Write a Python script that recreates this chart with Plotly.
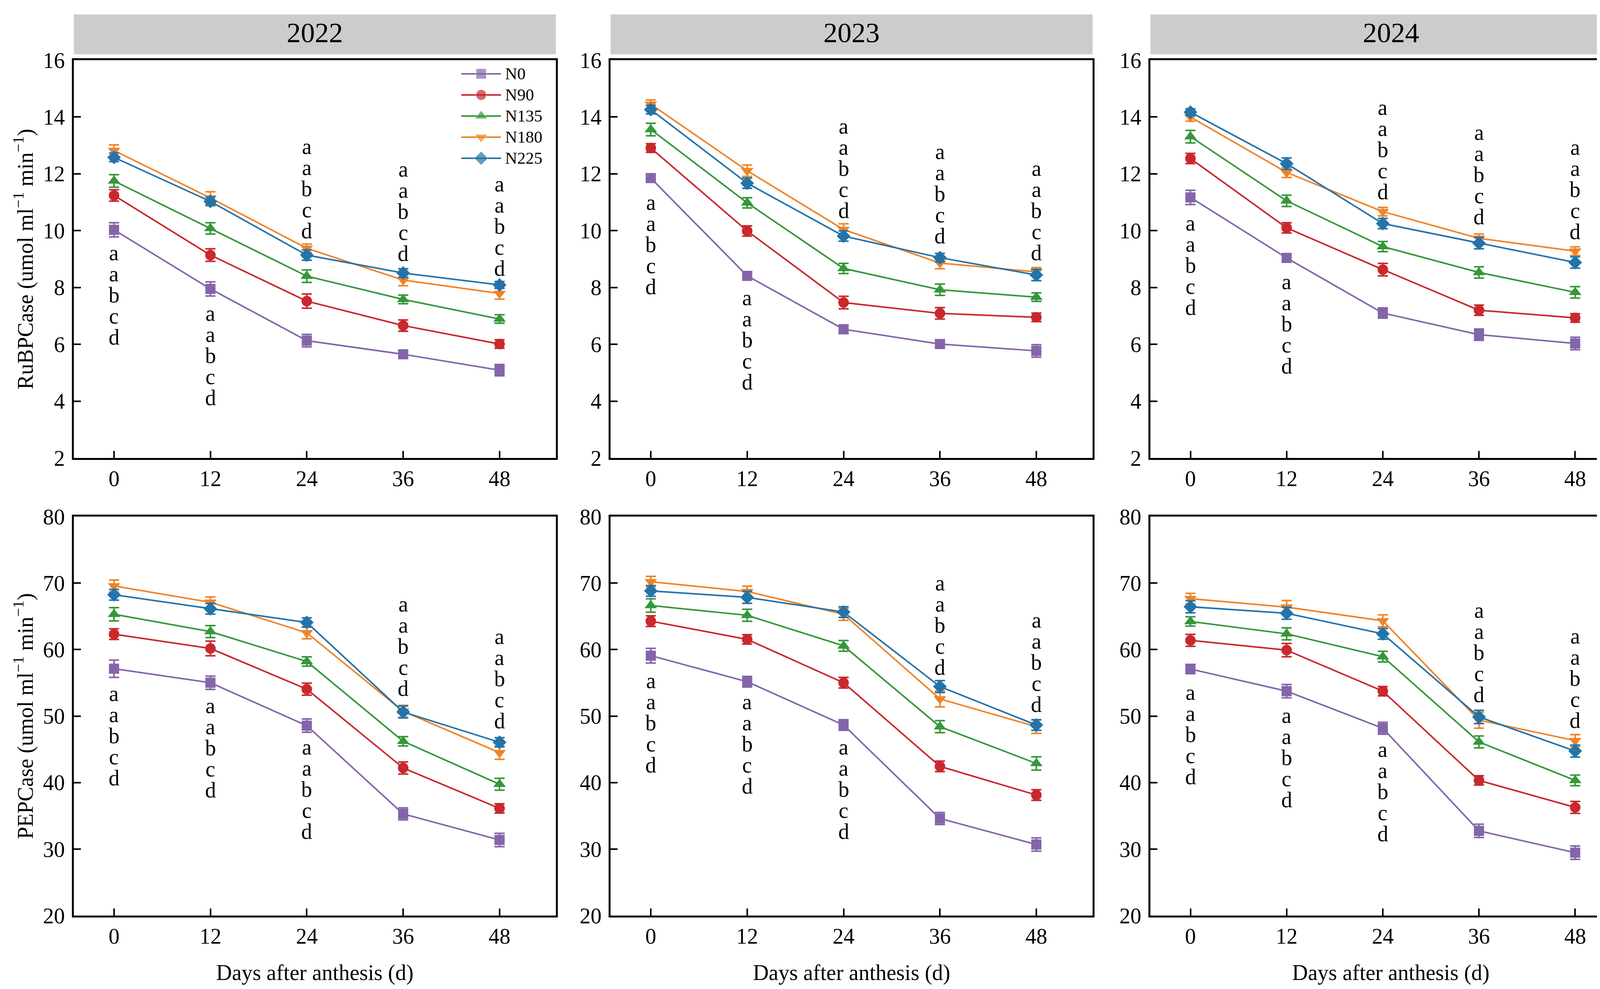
import plotly.graph_objects as go

days = [0, 12, 24, 36, 48]
years = ["2022", "2023", "2024"]
treatments = ["N0", "N90", "N135", "N180", "N225"]
letters = ["a", "a", "b", "c", "d"]

# RuBPCase means, one row per treatment (N0 ... N225)
rubp_2022 = [[10.03, 7.95, 6.13, 5.65, 5.09],
             [11.24, 9.14, 7.52, 6.66, 6.01],
             [11.75, 10.08, 8.40, 7.58, 6.89],
             [12.82, 11.15, 9.38, 8.26, 7.79],
             [12.58, 11.03, 9.14, 8.51, 8.09]]
rubp_2023 = [[11.85, 8.41, 6.53, 6.01, 5.77],
             [12.91, 9.99, 7.47, 7.09, 6.95],
             [13.56, 10.98, 8.67, 7.92, 7.66],
             [14.45, 12.11, 10.04, 8.86, 8.55],
             [14.26, 11.67, 9.81, 9.05, 8.44]]
rubp_2024 = [[11.17, 9.04, 7.10, 6.34, 6.03],
             [12.54, 10.10, 8.63, 7.20, 6.93],
             [13.31, 11.05, 9.44, 8.53, 7.83],
             [14.00, 12.05, 10.67, 9.73, 9.28],
             [14.17, 12.36, 10.25, 9.56, 8.88]]

rubp_2022_err = [[0.25, 0.25, 0.22, 0.12, 0.20],
                 [0.20, 0.22, 0.25, 0.20, 0.15],
                 [0.22, 0.20, 0.22, 0.15, 0.15],
                 [0.20, 0.22, 0.15, 0.20, 0.20],
                 [0.15, 0.15, 0.18, 0.15, 0.12]]
rubp_2023_err = [[0.12, 0.15, 0.15, 0.10, 0.22],
                 [0.15, 0.18, 0.22, 0.20, 0.15],
                 [0.22, 0.18, 0.18, 0.20, 0.15],
                 [0.15, 0.20, 0.20, 0.20, 0.15],
                 [0.15, 0.18, 0.18, 0.15, 0.20]]
rubp_2024_err = [[0.25, 0.15, 0.18, 0.20, 0.22],
                 [0.18, 0.18, 0.22, 0.18, 0.15],
                 [0.22, 0.20, 0.18, 0.20, 0.20],
                 [0.15, 0.18, 0.15, 0.15, 0.15],
                 [0.12, 0.20, 0.18, 0.20, 0.20]]

# PEPCase means
pep_2022 = [[57.13, 55.02, 48.56, 35.29, 31.37],
            [62.32, 60.17, 54.05, 42.20, 36.12],
            [65.31, 62.71, 58.21, 46.21, 39.75],
            [69.57, 67.12, 62.52, 50.72, 44.50],
            [68.25, 66.14, 64.08, 50.62, 46.06]]
pep_2023 = [[59.09, 55.17, 48.66, 34.60, 30.69],
            [64.28, 61.54, 55.02, 42.44, 38.13],
            [66.63, 65.16, 60.56, 48.41, 42.88],
            [70.21, 68.74, 65.31, 52.58, 48.41],
            [68.83, 67.86, 65.65, 54.44, 48.66]]
pep_2024 = [[57.08, 53.75, 48.17, 32.74, 29.46],
            [61.39, 59.92, 53.75, 40.33, 36.27],
            [64.23, 62.37, 58.94, 46.11, 40.33],
            [67.66, 66.39, 64.33, 49.39, 46.31],
            [66.44, 65.46, 62.37, 49.88, 44.74]]

pep_2022_err = [[1.3, 1.0, 1.0, 0.9, 1.0],
                [0.8, 1.1, 0.9, 0.9, 0.7],
                [1.0, 0.9, 0.7, 0.7, 0.9],
                [0.9, 0.8, 0.9, 0.9, 1.0],
                [0.8, 0.8, 0.7, 0.9, 0.7]]
pep_2023_err = [[1.1, 0.8, 0.8, 0.9, 1.0],
                [0.8, 0.7, 0.8, 0.8, 0.8],
                [1.0, 0.9, 0.8, 0.9, 1.0],
                [0.8, 0.8, 0.9, 1.2, 1.0],
                [0.8, 0.9, 0.8, 0.9, 0.8]]
pep_2024_err = [[0.7, 1.0, 0.9, 1.0, 1.0],
                [0.9, 1.0, 0.7, 0.7, 0.9],
                [0.7, 0.9, 0.8, 0.9, 0.8],
                [0.8, 1.0, 0.9, 1.2, 0.9],
                [0.9, 0.9, 0.8, 1.0, 0.9]]

# y position (data units) of the middle letter "b" of each significance column
rubp_letter_y = [[7.73, 5.61, 11.48, 10.68, 10.16],
                 [9.51, 6.15, 12.19, 11.30, 10.70],
                 [8.78, 6.72, 12.85, 11.97, 11.45]]
pep_letter_y = [[47.04, 45.23, 38.96, 60.51, 55.61],
                [49.00, 45.82, 39.01, 63.69, 58.06],
                [47.19, 43.76, 38.62, 59.53, 55.66]]

colors = ["#8565aa", "#c9282d", "#35973a", "#ef8427", "#2473a9"]
symbols = ["square", "circle", "triangle-up", "triangle-down", "diamond"]
marker_sizes = [26, 27, 28, 28, 27]

FONT = "Liberation Serif"
col_domains = [[0.0432, 0.3375], [0.3710, 0.6653], [0.7006, 0.9943]]
row_domains = [[0.5401, 0.9423], [0.0774, 0.4808]]

panels = [
    (0, rubp_2022, rubp_2022_err, rubp_letter_y[0]),
    (0, rubp_2023, rubp_2023_err, rubp_letter_y[1]),
    (0, rubp_2024, rubp_2024_err, rubp_letter_y[2]),
    (1, pep_2022, pep_2022_err, pep_letter_y[0]),
    (1, pep_2023, pep_2023_err, pep_letter_y[1]),
    (1, pep_2024, pep_2024_err, pep_letter_y[2]),
]

fig = go.Figure()
annotations = []
shapes = []
layout_axes = {}

for i, (row, means, errs, letter_y) in enumerate(panels):
    col = i % 3
    n = i + 1
    xa = "x" if n == 1 else f"x{n}"
    ya = "y" if n == 1 else f"y{n}"

    for t in range(len(treatments)):
        fig.add_trace(go.Scatter(
            x=days, y=means[t],
            error_y=dict(type="data", array=errs[t], color=colors[t], thickness=4, width=13),
            mode="lines+markers",
            name=treatments[t],
            line=dict(color=colors[t], width=4),
            marker=dict(symbol=symbols[t], size=marker_sizes[t], color=colors[t]),
            xaxis=xa, yaxis=ya,
            showlegend=False,
        ))

    # significance letters
    for d, yv in zip(days, letter_y):
        for k, lt in enumerate(letters):
            annotations.append(dict(
                x=d, y=yv, xref=xa, yref=ya, text=lt, showarrow=False,
                yanchor="middle", xanchor="center", yshift=(2 - k) * 54,
                font=dict(family=FONT, size=56, color="black"),
            ))

    axis_common = dict(
        showline=True, linecolor="black", linewidth=5, mirror=True,
        ticks="inside", ticklen=18, tickwidth=4, tickcolor="black",
        showgrid=False, zeroline=False, automargin=False,
        tickfont=dict(family=FONT, size=56, color="black"),
    )
    xkey = "xaxis" if n == 1 else f"xaxis{n}"
    ykey = "yaxis" if n == 1 else f"yaxis{n}"
    xaxis = dict(axis_common, domain=col_domains[col], anchor=ya, range=[-5, 55],
                 tickmode="array", tickvals=days, ticklabelstandoff=0)
    if row == 1:
        xaxis["title"] = dict(text="Days after anthesis (d)",
                              font=dict(family=FONT, size=56, color="black"), standoff=44)
    layout_axes[xkey] = xaxis

    if row == 0:
        yrange, dtick = [2, 16], 2
        ytitle = "RuBPCase (umol ml<sup>\u22121</sup> min<sup>\u22121</sup>)"
    else:
        yrange, dtick = [20, 80], 10
        ytitle = "PEPCase (umol ml<sup>\u22121</sup> min<sup>\u22121</sup>)"
    yaxis = dict(axis_common, domain=row_domains[row], anchor=xa, range=yrange,
                 dtick=dtick, tick0=yrange[0], ticklabelstandoff=7)
    if col == 0:
        yaxis["title"] = dict(text=ytitle, font=dict(family=FONT, size=56, color="black"),
                              standoff=9)
    layout_axes[ykey] = yaxis

# legend keys drawn on a small hidden helper axis inside the 2022 RuBPCase panel
legend_slots = [0, 1, 2]
for t in range(len(treatments)):
    fig.add_trace(go.Scatter(
        x=legend_slots, y=[t] * len(legend_slots),
        mode="lines+markers",
        line=dict(color=colors[t], width=4),
        marker=dict(symbol=symbols[t], size=[0, marker_sizes[t], 0], color=colors[t]),
        xaxis="x7", yaxis="y7", showlegend=False, hoverinfo="skip", cliponaxis=False,
    ))
    annotations.append(dict(
        x=legend_slots[-1], y=t, xref="x7", yref="y7", text=treatments[t], showarrow=False,
        xanchor="left", yanchor="middle", xshift=8,
        font=dict(family=FONT, size=43, color="black"),
    ))
hidden = dict(visible=False, showgrid=False, zeroline=False, fixedrange=True)
layout_axes["xaxis7"] = dict(hidden, domain=[0.2798, 0.3041], range=[0, 2], anchor="y7")
layout_axes["yaxis7"] = dict(hidden, domain=[0.8325, 0.9392], range=[4.5, -0.5], anchor="x7")

# year strips above the top row
for col, yr in enumerate(years):
    shapes.append(dict(type="rect", xref="paper", yref="paper",
                       x0=col_domains[col][0], x1=col_domains[col][1],
                       y0=0.9482, y1=0.9885, fillcolor="#cccccc",
                       line=dict(width=0), layer="below"))
    annotations.append(dict(x=sum(col_domains[col]) / 2, y=0.9700, xref="paper", yref="paper",
                            text=yr, showarrow=False, xanchor="center", yanchor="middle",
                            font=dict(family=FONT, size=72, color="black")))

fig.update_layout(
    width=4192, height=2531, autosize=False,
    margin=dict(l=0, r=0, t=0, b=0),
    paper_bgcolor="white", plot_bgcolor="white",
    font=dict(family=FONT, size=56, color="black"),
    annotations=annotations, shapes=shapes,
    showlegend=False,
    **layout_axes,
)

fig.write_html("out.html")
